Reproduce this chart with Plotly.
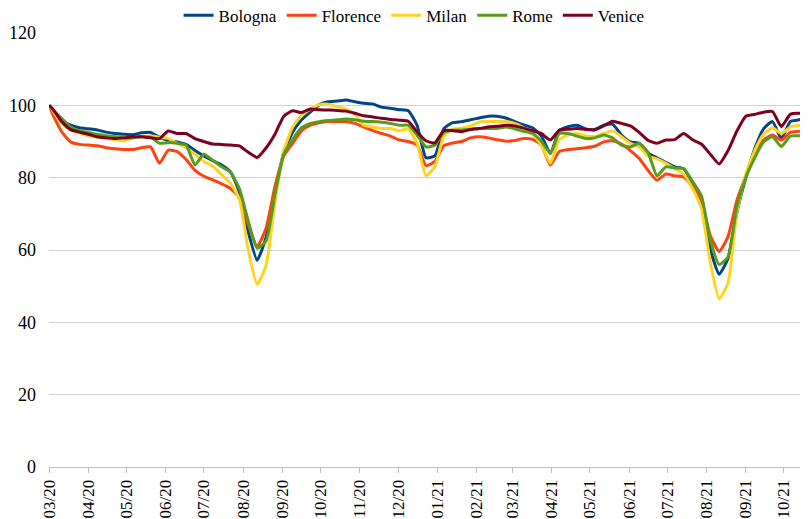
import pandas as pd
import plotly.graph_objects as go

# x-axis categories: first day, then weekly samples
dates = ["2020-03-01"] + [d.strftime("%Y-%m-%d") for d in pd.date_range("2020-03-04", periods=86, freq="7D")]

bologna = [100,
    98.5, 96, 94.5, 93.8, 93.5, 93.2, 92.6, 92.2, 92, 91.9,
    92.4, 92.5, 91.2, 90.3, 89.9, 89.2, 87.5, 86, 84.7, 83.5,
    81.6, 76, 65, 57.2, 63.5, 76, 87, 92.6, 96, 98.2,
    100.2, 101, 101.2, 101.5, 101, 100.6, 100.4, 99.5, 99.2, 98.8,
    98.5, 94.5, 85.5, 86, 93.5, 95.2, 95.5, 96, 96.5, 97,
    97, 96.5, 95.5, 94.6, 93.8, 91.5, 86.7, 93, 94.1, 94.5,
    93.5, 93.3, 94.5, 94.8, 91.8, 89.9, 89.5, 86.8, 85.5, 84.2,
    83, 82.5, 78.5, 74.5, 60.2, 53.3, 57.7, 70.4, 80, 88,
    93.5, 95.5, 90.8, 95.5, 96, 96.9]

florence = [100,
    97.5, 92.7, 89.9, 89.2, 89, 88.8, 88.3, 88, 87.8, 87.8,
    88.3, 88.5, 84, 87.6, 87.2, 85, 82, 80.4, 79.4, 78.3,
    77, 74.5, 67, 61, 66, 77.5, 86, 89.5, 93, 94.5,
    95.2, 95.5, 95.5, 95.5, 95, 94, 93, 92.2, 91.5, 90.4,
    90, 89, 83.3, 84.5, 88.8, 89.6, 90, 91, 91.3, 91,
    90.5, 90.1, 90.3, 90.8, 90.6, 89, 83.5, 87.2, 87.8, 88,
    88.3, 88.7, 89.9, 90.2, 89.3, 87.5, 85.3, 82, 79.3, 81,
    80.5, 80.2, 77.5, 73.5, 64, 59.6, 63.7, 73.7, 80.5, 87,
    90.4, 91.8, 90.4, 92.5, 92.8, 93.2]

milan = [100,
    98.5, 95, 93.2, 92.3, 91.6, 91.2, 90.8, 90.5, 90.2, 91,
    91.4, 91.5, 91.2, 90.8, 89.5, 88.3, 86.5, 84.5, 83.2, 80.8,
    78.5, 74, 60, 50.5, 55.7, 73, 87.5, 94, 97.2, 99,
    100.2, 100.3, 99.6, 99, 97.5, 94.5, 94, 93.6, 93.6, 93,
    93.5, 89.5, 80.6, 83, 91.5, 93.4, 93.7, 94.3, 95.4, 95.5,
    95.5, 95.5, 95, 93.8, 92, 89, 84, 90.5, 91.8, 92.2,
    91.5, 91.4, 92.2, 93, 91.3, 89.5, 88.5, 86, 85.2, 84,
    82.5, 81, 77, 71.5, 56.6, 46.5, 50.9, 70.5, 81, 87.5,
    92, 93.8, 92.2, 94, 94.5, 95]

rome = [100,
    98.8, 96.4, 94, 93, 92.5, 92, 91.6, 91.3, 91, 91,
    91.3, 91.2, 89.5, 89.7, 89.5, 89, 83.5, 86.5, 84.8, 83,
    81.5, 77, 68, 60.5, 62.5, 75.3, 86.5, 90.6, 93.8, 95,
    95.5, 95.8, 96, 96.2, 96, 95.6, 95.5, 95.3, 95, 94.5,
    94.5, 91.8, 88.5, 89, 92.5, 93.1, 93.2, 93.4, 93.6, 93.6,
    93.6, 94, 93.5, 92.8, 92.2, 90, 86.7, 92.2, 92.2, 91.5,
    90.8, 91, 91.8, 91, 89, 88.5, 89.5, 87, 80.5, 83,
    82.7, 82.5, 79, 75, 62.8, 56, 58.1, 72, 80, 85.5,
    89.9, 91.3, 88.6, 91.5, 91.6, 91.8]

venice = [100,
    99, 95.5, 93.3, 92.6, 92, 91.3, 91, 90.8, 91, 91.3,
    91.3, 91, 90.8, 92.9, 92.2, 92.2, 90.8, 90, 89.3, 89.2,
    89, 88.8, 87, 85.6, 88.2, 92, 97, 98.5, 98, 99,
    98.8, 98.7, 98.6, 98.4, 97.8, 97.1, 96.8, 96.4, 96.1, 95.9,
    95.6, 92.7, 90.2, 89.6, 93, 93, 92.7, 93.3, 93.6, 94,
    94.2, 94.5, 94.3, 93.7, 93, 92.2, 90.4, 93.1, 93.4, 93.6,
    93.3, 93.2, 94.3, 95.6, 95, 94.3, 92.5, 90.3, 89.5, 90.4,
    90.5, 92.2, 90.5, 89.3, 86.5, 83.8, 87.5, 92.9, 97, 97.5,
    98.1, 98.3, 94.1, 97.5, 97.8, 97.3]

series_names = ["Bologna", "Florence", "Milan", "Rome", "Venice"]
series_colors = ["#004586", "#ff420e", "#ffd320", "#579d1c", "#7e0021"]

tick_dates = ["2020-03-01", "2020-04-01", "2020-05-01", "2020-06-01", "2020-07-01",
              "2020-08-01", "2020-09-01", "2020-10-01", "2020-11-01", "2020-12-01",
              "2021-01-01", "2021-02-01", "2021-03-01", "2021-04-01", "2021-05-01",
              "2021-06-01", "2021-07-01", "2021-08-01", "2021-09-01", "2021-10-01"]
tick_labels = ["03/20", "04/20", "05/20", "06/20", "07/20", "08/20", "09/20", "10/20",
               "11/20", "12/20", "01/21", "02/21", "03/21", "04/21", "05/21", "06/21",
               "07/21", "08/21", "09/21", "10/21"]
y_ticks = [0, 20, 40, 60, 80, 100, 120]

font_family = "Times New Roman"

fig = go.Figure()
for name, vals, col in zip(series_names, [bologna, florence, milan, rome, venice], series_colors):
    fig.add_trace(go.Scatter(
        x=dates, y=vals, name=name, mode="lines",
        line=dict(color=col, width=3, shape="spline", smoothing=0.5),
    ))

# page body has an 8px margin, so the figure is 800x511 placed at (8, 8)
fig.update_layout(
    width=800, height=511,
    margin=dict(l=41, r=0, t=25, b=52, autoexpand=False),
    paper_bgcolor="white", plot_bgcolor="white",
    font=dict(family=font_family, size=16, color="#000000"),
    showlegend=True,
    legend=dict(orientation="h", x=0.481, xanchor="center", y=1.04, yanchor="middle",
                font=dict(family=font_family, size=17), itemwidth=30, tracegroupgap=0,
                bgcolor="rgba(0,0,0,0)"),
)
fig.update_xaxes(
    type="date", range=["2020-03-01", "2021-10-20"], automargin=False,
    tickmode="array", tickvals=tick_dates, ticktext=tick_labels,
    tickangle=-90, ticks="outside", ticklen=5, tickcolor="#bfbfbf",
    showline=True, linecolor="#bfbfbf", linewidth=1,
    showgrid=False, zeroline=False,
    tickfont=dict(family=font_family, size=17, color="#000000"),
)
fig.update_yaxes(
    range=[0, 120], tickmode="array", tickvals=y_ticks,
    ticktext=[str(v) for v in y_ticks],
    showgrid=True, gridcolor="#d0d0d0", gridwidth=1, automargin=False,
    zeroline=False, showline=False, ticks="",
    ticklabelstandoff=12, tickfont=dict(family=font_family, size=18, color="#000000"),
)

fig.write_html("out.html")
